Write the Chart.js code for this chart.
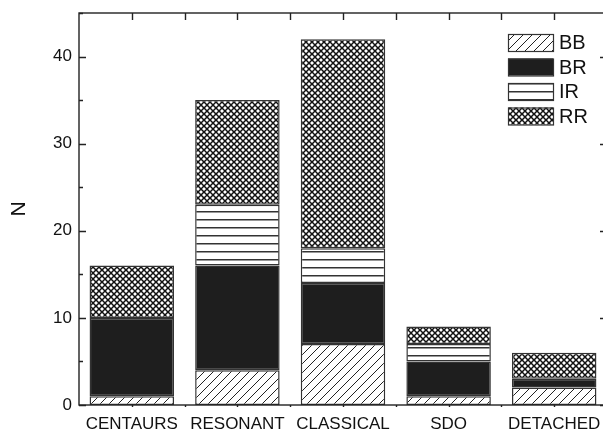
<!DOCTYPE html>
<html>
<head>
<meta charset="utf-8">
<script src="https://cdn.jsdelivr.net/npm/chart.js@4.4.1/dist/chart.umd.min.js"></script>
<style>
  html, body { margin: 0; padding: 0; background: #fff; overflow: hidden; }
</style>
</head>
<body>
<canvas id="myChart" width="610" height="429"></canvas>
<script>
const categories = ['CENTAURS', 'RESONANT', 'CLASSICAL', 'SDO', 'DETACHED'];
const seriesNames = ['BB', 'BR', 'IR', 'RR'];
const bbValues = [1, 4, 7, 1, 2];
const brValues = [9, 12, 7, 4, 1];
const irValues = [0, 7, 4, 2, 0];
const rrValues = [6, 12, 24, 2, 3];
const yTicks = [0, 10, 20, 30, 40];

const FONT = '"Liberation Sans", Arial, Helvetica, sans-serif';
const canvas = document.getElementById('myChart');

function makePattern(w, h, draw) {
    const c = document.createElement('canvas');
    c.width = w;
    c.height = h;
    const g = c.getContext('2d');
    g.fillStyle = '#fff';
    g.fillRect(0, 0, w, h);
    draw(g, w, h);
    return canvas.getContext('2d').createPattern(c, 'repeat');
}

// BB: ////
const diagFill = makePattern(9, 9, (g, w, h) => {
    g.strokeStyle = '#222';
    g.lineWidth = 1;
    g.beginPath();
    g.moveTo(-1, h + 1); g.lineTo(w + 1, -1);
    g.moveTo(-1, 1); g.lineTo(1, -1);
    g.moveTo(w - 1, h + 1); g.lineTo(w + 1, h - 1);
    g.stroke();
});

// IR: horizontal lines
const horizFill = makePattern(4, 8, (g, w) => {
    g.fillStyle = '#333';
    g.fillRect(0, 3, w, 1.5);
});

// RR: cross hatch
const crossFill = makePattern(6, 6, (g, w, h) => {
    g.strokeStyle = '#111';
    g.lineWidth = 1.5;
    g.beginPath();
    g.moveTo(-1, -1); g.lineTo(w + 1, h + 1);
    g.moveTo(-1, h + 1); g.lineTo(w + 1, -1);
    g.stroke();
});

const fills = [diagFill, '#1e1e1e', horizFill, crossFill];
const allValues = [bbValues, brValues, irValues, rrValues];

const datasets = allValues.map((vals, i) => ({
    label: seriesNames[i],
    data: vals,
    backgroundColor: fills[i],
    borderColor: '#333',
    borderWidth: 1.5,
    borderSkipped: false,
    barPercentage: 0.8,
    categoryPercentage: 1
}));

// frame with inward ticks on all sides
const framePlugin = {
    id: 'frame',
    afterDatasetsDraw(chart) {
        const { ctx, chartArea: a, scales: { x, y } } = chart;
        ctx.save();
        ctx.strokeStyle = '#222';
        ctx.lineWidth = 1.4;
        ctx.strokeRect(a.left, a.top, a.right - a.left, a.bottom - a.top);
        ctx.beginPath();
        for (let v = 0; v <= 45; v += 5) {
            const py = Math.round(y.getPixelForValue(v)) + 0.5;
            const len = v % 10 === 0 ? 7 : 4;
            ctx.moveTo(a.left, py); ctx.lineTo(a.left + len, py);
            ctx.moveTo(a.right, py); ctx.lineTo(a.right - len, py);
        }
        for (let i = 0; i < categories.length; i += 0.5) {
            const px = Math.round(x.getPixelForValue(i)) + 0.5;
            ctx.moveTo(px, a.top); ctx.lineTo(px, a.top + 7);
            ctx.moveTo(px, a.bottom); ctx.lineTo(px, a.bottom + 2);
        }
        ctx.stroke();
        ctx.restore();
    }
};

const legendPlugin = {
    id: 'hatchLegend',
    afterDraw(chart) {
        const { ctx } = chart;
        const boxX = 508, boxW = 45, boxH = 17, top = 34, step = 24.5;
        ctx.save();
        chart.data.datasets.forEach((ds, i) => {
            const by = top + i * step;
            ctx.fillStyle = ds.backgroundColor;
            ctx.fillRect(boxX, by, boxW, boxH);
            ctx.strokeStyle = '#333';
            ctx.lineWidth = 1.2;
            ctx.strokeRect(boxX + 0.5, by + 0.5, boxW, boxH);
            ctx.fillStyle = '#111';
            ctx.font = '20px ' + FONT;
            ctx.textBaseline = 'middle';
            ctx.textAlign = 'left';
            ctx.fillText(ds.label, boxX + boxW + 6, by + boxH / 2 + 1);
        });
        ctx.restore();
    }
};

new Chart(canvas, {
    type: 'bar',
    data: {
        labels: categories,
        datasets: datasets
    },
    options: {
        responsive: false,
        animation: false,
        devicePixelRatio: 1,
        layout: { padding: { top: 13, right: 3, left: 0, bottom: 0 } },
        plugins: {
            legend: { display: false },
            tooltip: { enabled: false }
        },
        scales: {
            x: {
                stacked: true,
                offset: true,
                grid: { display: false, drawTicks: false },
                border: { display: false },
                ticks: {
                    color: '#111',
                    font: { family: FONT, size: 17 },
                    padding: 9,
                    maxRotation: 0,
                    autoSkip: false
                },
                afterFit(s) { s.height = 24; s.paddingLeft = 0; s.paddingRight = 0; }
            },
            y: {
                stacked: true,
                min: 0,
                max: 45,
                grid: { display: false, drawTicks: false },
                border: { display: false },
                afterBuildTicks(s) { s.ticks = yTicks.map(v => ({ value: v })); },
                ticks: {
                    color: '#111',
                    font: { family: FONT, size: 17 },
                    padding: 7
                },
                title: {
                    display: true,
                    text: 'N',
                    color: '#111',
                    font: { family: FONT, size: 21 },
                    padding: { top: 7, bottom: 0 }
                },
                afterFit(s) { s.width = 79; s.paddingTop = 0; s.paddingBottom = 0; }
            }
        }
    },
    plugins: [framePlugin, legendPlugin]
});
</script>
</body>
</html>
